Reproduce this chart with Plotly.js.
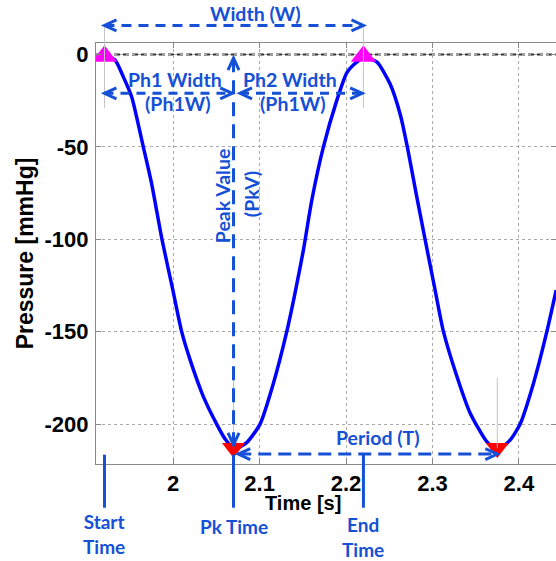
<!DOCTYPE html>
<html><head><meta charset="utf-8">
<script src="https://cdn.plot.ly/plotly-3.0.1.min.js"></script>
<style>html,body{margin:0;padding:0;background:#fff}#chart{width:556px;height:561px}</style>
</head><body><div id="chart"></div>
<script>
// ---- data ----
const timeS = [1.9211, 1.9328, 1.9422, 1.9520, 1.9654, 1.9751, 1.9870, 1.9994, 2.0098, 2.0194, 2.0348, 2.0503, 2.0600, 2.0704, 2.0850, 2.1005, 2.1159, 2.1314, 2.1410, 2.1506, 2.1603, 2.1738, 2.1892, 2.2008, 2.2084, 2.2200, 2.2355, 2.2510, 2.2630, 2.2709, 2.2810, 2.2914, 2.3020, 2.3127, 2.3281, 2.3435, 2.3628, 2.3751, 2.3898, 2.4014, 2.4168, 2.4323, 2.4431];
const pressure = [-0.3, -3, -12, -23, -50, -70, -100, -127, -150, -165, -185, -200, -208, -213.5, -210, -200, -178, -150, -129, -106, -79, -50, -25, -10, -5.7, -2, -4, -16, -33, -50, -75, -100, -125, -150, -174, -194, -209.5, -214, -208.7, -200, -178, -150, -127.5];
const crestTime = [1.9205, 2.2201];
const crestValue = [-1, -1];
const troughTime = [2.0698, 2.3750];
const troughValue = [-213, -213];
const xTickVals = [2, 2.1, 2.2, 2.3, 2.4];
const xTickText = ['2', '2.1', '2.2', '2.3', '2.4'];
const yTickVals = [0, -50, -100, -150, -200];
const yTickText = ['0', '-50', '-100', '-150', '-200'];

const startTime = crestTime[0], endTime = crestTime[1];
const pkTime = troughTime[0], nextPkTime = troughTime[1];
const pkValue = troughValue[0];

const B = '#1550D6';
const shapes = [];
function seg(x0, y0, x1, y1, yref, dash, color, width, layer) {
  shapes.push({type: 'line', xref: 'x', yref: yref, x0: x0, y0: y0, x1: x1, y1: y1,
    line: {color: color || B, width: width || 3, dash: dash || 'solid'}, layer: layer || 'above'});
}
const chevPaths = {
  left: 'M12,5.5L0,0L12,-5.5', right: 'M-12,5.5L0,0L-12,-5.5',
  up: 'M-5.5,-12L0,0L5.5,-12', down: 'M-5.5,12L0,0L5.5,12'
};
function chev(x, y, dir, yref) {
  shapes.push({type: 'path', xref: 'x', yref: yref, xsizemode: 'pixel', ysizemode: 'pixel',
    xanchor: x, yanchor: y, path: chevPaths[dir], line: {color: B, width: 3}, layer: 'above'});
}
// zero line
shapes.push({type: 'line', xref: 'paper', yref: 'y', x0: 0, x1: 1, y0: 0, y1: 0,
  line: {color: '#333', width: 2, dash: '6px,3px'}, layer: 'below'});
// grey guides
seg(startTime, 0.846, startTime, 1.041, 'paper', 'solid', '#c4c4c4', 1);
seg(endTime, 0.846, endTime, 1.041, 'paper', 'solid', '#c4c4c4', 1);
seg(nextPkTime, -175, nextPkTime, pkValue, 'y', 'solid', '#c4c4c4', 1);
seg(pkTime, -175, pkTime, pkValue, 'y', 'solid', '#c4c4c4', 1);
// Width arrow
const wY = 1.0418;
seg(startTime, wY, endTime, wY, 'paper', '10px,7px');
chev(startTime, wY, 'left', 'paper'); chev(endTime, wY, 'right', 'paper');
// Ph1 / Ph2 arrows
const phY = -21;
seg(startTime, phY, pkTime - 0.0015, phY, 'y', '9px,7px');
chev(startTime, phY, 'left', 'y'); chev(pkTime - 0.0015, phY, 'right', 'y');
seg(pkTime + 0.0075, phY, endTime - 0.0015, phY, 'y', '9px,7px');
chev(pkTime + 0.0075, phY, 'left', 'y'); chev(endTime - 0.0015, phY, 'right', 'y');
// Peak value arrow
seg(pkTime, -2, pkTime, -211.3, 'y', '14px,8px');
chev(pkTime, -2, 'up', 'y'); chev(pkTime, -211.3, 'down', 'y');
// Period arrow
const perY = -216.2;
seg(pkTime + 0.0055, perY, nextPkTime, perY, 'y', '13px,7px');
chev(pkTime + 0.0055, perY, 'left', 'y'); chev(nextPkTime, perY, 'right', 'y');
// time markers (solid)
[startTime, pkTime, endTime].forEach(t => seg(t, 0.0221, t, -0.1038, 'paper', 'solid', B, 3));

const af = {family: 'Lato, sans-serif', size: 19.5, color: B, weight: 'bold'};
const bf = {family: 'Lato, sans-serif', size: 19, color: B, weight: 'bold'};
function ann(text, x, y, yref, font, angle) {
  return {text: text, x: x, y: y, xref: 'x', yref: yref, showarrow: false, font: font,
    textangle: angle || 0, xanchor: 'center', yanchor: 'middle'};
}
const annotations = [
  ann('Width (W)', 2.0958, 1.069, 'paper', af),
  ann('Ph1 Width', 2.0021, -13.3, 'y', af),
  ann('(Ph1W)', 2.0061, -26.8, 'y', af),
  ann('Ph2 Width', 2.1346, -13.3, 'y', af),
  ann('(Ph1W)', 2.1386, -26.8, 'y', af),
  ann('Peak Value', 2.0567, -76.6, 'y', af, -90),
  ann('(PkV)', 2.0914, -75.5, 'y', af, -90),
  ann('Period (T)', 2.2374, -207.3, 'y', af),
  ann('Start<br>Time', startTime, -0.1667, 'paper', bf),
  ann('Pk Time', pkTime, -0.1482, 'paper', bf),
  ann('End<br>Time', endTime, -0.1740, 'paper', bf),
  ann('Time [s]', 2.1505, -0.0919, 'paper', {family: 'Liberation Sans, Arial, sans-serif', size: 20, color: '#000', weight: 'bold'})
];

const traces = [
  {x: timeS, y: pressure, type: 'scatter', mode: 'lines', line: {color: '#0000FF', width: 3.5, shape: 'spline', smoothing: 0.6}, hoverinfo: 'skip'},
  {x: crestTime, y: crestValue, type: 'scatter', mode: 'markers', marker: {symbol: 'triangle-up', size: 22, color: '#FF00FF'}, hoverinfo: 'skip'},
  {x: troughTime, y: troughValue, type: 'scatter', mode: 'markers', marker: {symbol: 'triangle-down', size: 20, color: '#FF0000'}, hoverinfo: 'skip'}
];

const tickFont = {family: 'Liberation Sans, Arial, sans-serif', size: 22, color: '#000', weight: 'bold'};
const axisCommon = {ticks: 'inside', ticklen: 5, tickcolor: '#888', showline: true, linecolor: '#888', linewidth: 1,
  mirror: 'ticks', showgrid: true, gridcolor: '#aaa', griddash: 'dot', gridwidth: 1, zeroline: false,
  tickfont: tickFont, fixedrange: true, tickmode: 'array'};
const layout = {
  width: 556, height: 561,
  margin: {l: 96, r: 0, t: 43, b: 97},
  paper_bgcolor: '#fff', plot_bgcolor: '#fff', showlegend: false,
  xaxis: Object.assign({}, axisCommon, {range: [1.9107, 2.4429], tickvals: xTickVals, ticktext: xTickText, ticklabelstandoff: 0}),
  yaxis: Object.assign({}, axisCommon, {range: [-221.6, 6.2], tickvals: yTickVals, ticktext: yTickText, ticklabelstandoff: 2,
    title: {text: 'Pressure [mmHg]', standoff: 4, font: {family: 'Liberation Sans, Arial, sans-serif', size: 23, color: '#000', weight: 'bold'}}}),
  shapes: shapes,
  annotations: annotations
};
Plotly.newPlot('chart', traces, layout, {staticPlot: true, displayModeBar: false});
</script>
</body></html>
